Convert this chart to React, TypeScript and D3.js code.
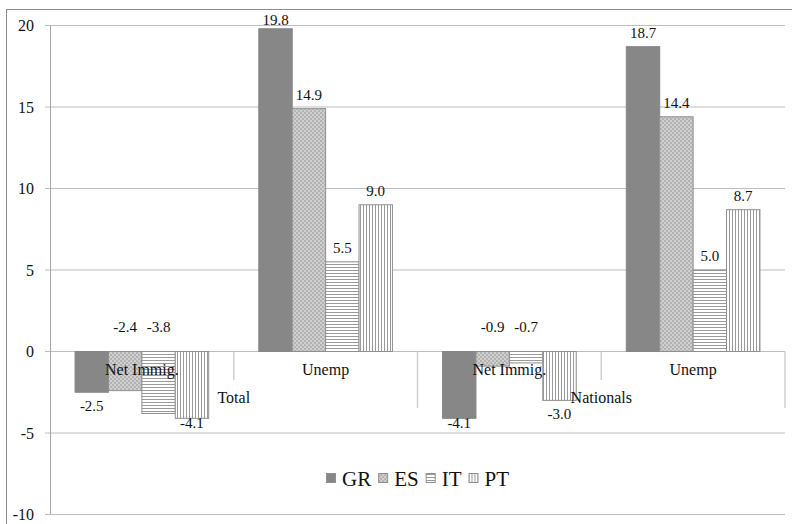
import React from 'react';
import * as d3 from 'd3';

const groups = ['Total', 'Nationals'];
const subCategories = ['Net Immig.', 'Unemp'];
const seriesNames = ['GR', 'ES', 'IT', 'PT'];
const grValues = [-2.5, 19.8, -4.1, 18.7];
const esValues = [-2.4, 14.9, -0.9, 14.4];
const itValues = [-3.8, 5.5, -0.7, 5.0];
const ptValues = [-4.1, 9.0, -3.0, 8.7];
const yTicks = [-10, -5, 0, 5, 10, 15, 20];
const baseLabelSeries = ['ES', 'IT'];

const W = 792;
const H = 524;

const leafKeys = groups.flatMap((g) => subCategories.map((s) => `${g}|${s}`));
const seriesValues = [grValues, esValues, itValues, ptValues];

// Times-like advance widths (em) for legend layout
const ADV: Record<string, number> = { G: 0.722, R: 0.667, E: 0.611, S: 0.556, I: 0.333, T: 0.611, P: 0.556 };
function measure(text: string, size: number) {
  return text.split('').reduce((s, ch) => s + (ADV[ch] ?? 0.5), 0) * size;
}

const T = ({ size, children, ...rest }: any) => (
  <text {...rest} fill="#111" style={{ fontFamily: `"Liberation Serif"`, fontSize: size }}>
    {children}
  </text>
);

export default function App() {
  const plotL = 50;
  const plotR = 785;
  const y = d3.scaleLinear().domain([-10, 20]).range([514.5, 25.5]);
  const x0 = d3.scaleBand<string>().domain(leafKeys).range([plotL, plotR]).paddingInner(0).paddingOuter(0);
  const x1 = d3
    .scaleBand<string>()
    .domain(seriesNames)
    .range([0, x0.bandwidth()])
    .paddingInner(0)
    .paddingOuter(0.75);
  const y0 = y(0);

  const groupSpan = (g: string) => {
    const keys = leafKeys.filter((k) => k.startsWith(g + '|'));
    const a = x0(keys[0])!;
    const b = x0(keys[keys.length - 1])! + x0.bandwidth();
    return [a, b];
  };

  // legend layout
  const legSize = 21;
  const items = seriesNames.map((n) => ({ n, w: 10 + 6 + measure(n, legSize) }));
  const gap = 7;
  const total = d3.sum(items, (d) => d.w) + gap * (items.length - 1);
  let cx = (plotL + plotR) / 2 - total / 2;
  const legendPos = items.map((it) => {
    const p = cx;
    cx += it.w + gap;
    return p;
  });

  const bars: React.ReactNode[] = [];
  const labels: React.ReactNode[] = [];
  leafKeys.forEach((k, ci) => {
    seriesNames.forEach((s, si) => {
      const v = seriesValues[si][ci];
      const bx = x0(k)! + x1(s)!;
      const bw = x1.bandwidth();
      const yv = y(v);
      bars.push(
        <rect
          key={`b-${k}-${s}`}
          x={bx}
          y={Math.min(yv, y0)}
          width={bw}
          height={Math.abs(yv - y0)}
          fill={`url(#pat-${si})`}
          stroke={si === 0 ? '#858585' : '#8f8f8f'}
          strokeWidth={1}
        />
      );
      let ly: number;
      if (v >= 0) ly = Math.max(yv - 9, 25);
      else if (baseLabelSeries.includes(s)) ly = y0 - 20;
      else ly = Math.min(yv + 19, 428);
      labels.push(
        <T key={`l-${k}-${s}`} x={bx + bw / 2} y={ly} textAnchor="middle" size={15}>
          {v.toFixed(1)}
        </T>
      );
    });
  });

  return (
    <svg width={W} height={H} style={{ position: 'absolute', left: 0, top: 0, background: '#fff' }}>
      <defs>
        <pattern id="pat-0" width="4" height="4" patternUnits="userSpaceOnUse">
          <rect width="4" height="4" fill="#878787" />
        </pattern>
        <pattern id="pat-1" width="4" height="4" patternUnits="userSpaceOnUse">
          <rect width="4" height="4" fill="#cfcfcf" />
          <rect x="0" y="0" width="2" height="2" fill="#b3b3b3" />
          <rect x="2" y="2" width="2" height="2" fill="#b3b3b3" />
        </pattern>
        <pattern id="pat-2" width="3" height="3" patternUnits="userSpaceOnUse">
          <rect width="3" height="3" fill="#ffffff" />
          <rect x="0" y="0" width="3" height="1" fill="#9a9a9a" />
        </pattern>
        <pattern id="pat-3" width="3" height="3" patternUnits="userSpaceOnUse">
          <rect width="3" height="3" fill="#ffffff" />
          <rect x="0" y="0" width="1" height="3" fill="#9a9a9a" />
        </pattern>
      </defs>
      <rect x={0} y={0} width={W} height={H} fill="#fff" />
      {/* outer chart border */}
      <rect x={6.5} y={9.5} width={900} height={700} fill="none" stroke="#8c8c8c" strokeWidth={1} />

      {/* gridlines */}
      {yTicks.map((t) => (
        <line key={`g-${t}`} x1={plotL - 5} x2={plotR} y1={y(t)} y2={y(t)} stroke="#bdbdbd" strokeWidth={1} />
      ))}
      {/* y axis */}
      <line x1={plotL + 0.5} x2={plotL + 0.5} y1={y(20)} y2={y(-10)} stroke="#a6a6a6" />
      {yTicks.map((t) => (
        <T key={`t-${t}`} x={34} y={y(t)} dy="0.35em" textAnchor="end" size={16}>
          {t}
        </T>
      ))}

      {/* category separators */}
      {leafKeys.map((k, i) => {
        const xe = x0(k)! + x0.bandwidth();
        const isGroupEnd = i === leafKeys.length - 1 || leafKeys[i + 1].split('|')[0] !== k.split('|')[0];
        return (
          <line
            key={`s-${k}`}
            x1={xe}
            x2={xe}
            y1={y0}
            y2={isGroupEnd ? 408 : 380}
            stroke="#d0d0d0"
            strokeWidth={1.5}
          />
        );
      })}

      {bars}
      {labels}

      {/* category labels */}
      {leafKeys.map((k) => (
        <T key={`c-${k}`} x={x0(k)! + x0.bandwidth() / 2} y={375} textAnchor="middle" size={16}>
          {k.split('|')[1]}
        </T>
      ))}
      {groups.map((g) => {
        const [a, b] = groupSpan(g);
        return (
          <T key={`gl-${g}`} x={(a + b) / 2} y={403} textAnchor="middle" size={16}>
            {g}
          </T>
        );
      })}

      {/* legend */}
      {seriesNames.map((n, i) => (
        <g key={`lg-${n}`} transform={`translate(${legendPos[i]},0)`}>
          <rect x={0.5} y={473.5} width={9} height={9} fill={`url(#pat-${i})`} stroke="#8f8f8f" strokeWidth={1} />
          <T x={16} y={486} size={legSize}>
            {n}
          </T>
        </g>
      ))}
    </svg>
  );
}
